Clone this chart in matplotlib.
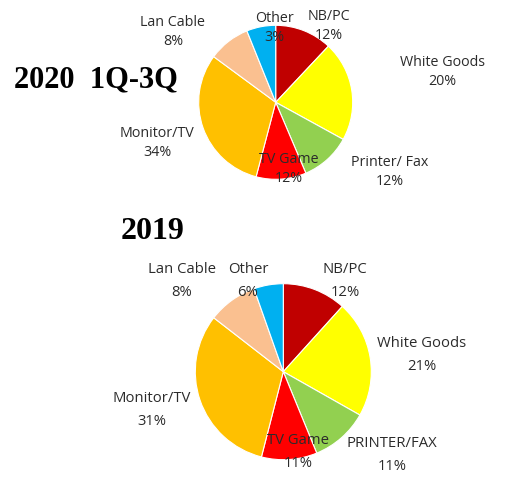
import matplotlib
matplotlib.use('Agg')
import matplotlib.pyplot as plt

# categorias e valores
cats_2020 = ['NB/PC', 'White Goods', 'Printer/ Fax', 'TV Game', 'Monitor/TV', 'Lan Cable', 'Other']
rotulos_2020 = ['12%', '20%', '12%', '12%', '34%', '8%', '3%']
fatias_2020 = [12, 21, 10.6, 10.5, 31, 8.8, 6.1]  # tamanho das fatias medido no desenho

cats_2019 = ['NB/PC', 'White Goods', 'PRINTER/FAX', 'TV Game', 'Monitor/TV', 'Lan Cable', 'Other']
rotulos_2019 = ['12%', '21%', '11%', '11%', '31%', '8%', '6%']
fatias_2019 = [11.7, 21.5, 10.6, 10.2, 31.5, 9.1, 5.4]

cores = ['#C00000', '#FFFF00', '#92D050', '#FF0000', '#FFC000', '#FAC090', '#00B0F0']

W, H = 512, 499

fig = plt.figure(figsize=(W / 100, H / 100), dpi=100)
ax = fig.add_axes([0, 0, 1, 1])
ax.set_xlim(0, W)
ax.set_ylim(0, H)
ax.set_aspect('equal')
ax.axis('off')

def desenhar_pizza(fatias, cats, rotulos, centro, raio, posicoes, tamanho, espaco):
    ax.pie(fatias, colors=cores, startangle=90, counterclock=False,
           center=(centro[0], H - centro[1]), radius=raio,
           wedgeprops=dict(edgecolor='white', linewidth=0.8))
    for cat, rot, (x, y) in zip(cats, rotulos, posicoes):
        ax.text(x, H - y, cat + '\n' + rot, ha='center', va='center',
                fontsize=tamanho, family='Open Sans', color='#2b2b2b',
                linespacing=espaco)

# posicoes dos rotulos (pixels)
pos_2020 = [(329, 26), (442, 72), (390, 172), (289, 169), (157, 143), (173, 32), (274, 28)]
pos_2019 = [(345, 281), (422, 355), (392, 455), (298, 452), (152, 410), (182, 281), (248, 281)]

desenhar_pizza(fatias_2020, cats_2020, rotulos_2020, (275.7, 102.3), 77, pos_2020, 10.3, 1.45)
desenhar_pizza(fatias_2019, cats_2019, rotulos_2019, (283.3, 371.7), 88, pos_2019, 10.7, 1.65)

ax.text(14, H - 80, '2020  1Q-3Q', ha='left', va='center', fontsize=22,
        family='Liberation Serif', fontweight='bold', color='black')
ax.text(121, H - 231, '2019', ha='left', va='center', fontsize=23,
        family='Liberation Serif', fontweight='bold', color='black')

ax.set_xlim(0, W)
ax.set_ylim(0, H)

fig.savefig('out.png', dpi=100)
